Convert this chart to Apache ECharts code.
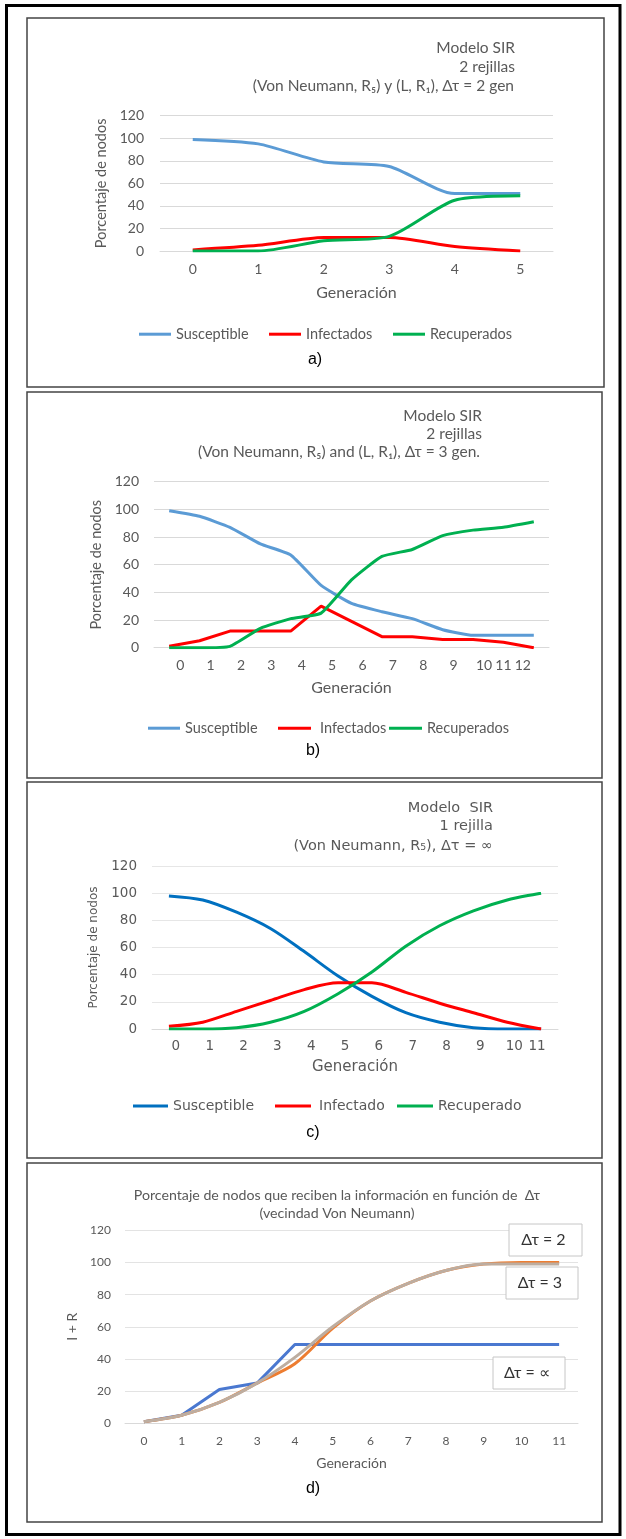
<!DOCTYPE html>
<html>
<head>
<meta charset="utf-8">
<script src="https://cdn.jsdelivr.net/npm/echarts@6/dist/echarts.min.js"></script>
<style>
html,body{margin:0;padding:0;background:#fff;}
#c{width:626px;height:1539px;}
</style>
</head>
<body>
<div id="c"></div>
<script>
// ---------- data ----------
const genA = ['0','1','2','3','4','5'];
const susA = [99,95,79,75,51,51];
const infA = [1,5,12,12,4,0];
const recA = [0,0,9,13,45,49];

const genB = ['0','1','2','3','4','5','6','7','8','9','10','11','12'];
const susB = [99,95,87,75,67,45,32,26,21,13,9,9,9];
const infB = [1,5,12,12,12,30,19,8,8,6,6,4,0];
const recB = [0,0,1,14,21,25,49,66,71,81,85,87,91];

const genC = ['0','1','2','3','4','5','6','7','8','9','10','11'];
const susC = [98,95,86,74,57,39,24,12,5,1,0,0];
const infC = [2,5,13,21,29,34,34,27,19,12,5,0];
const recC = [0,0,1,5,13,26,42,61,76,87,95,100];

const genD = ['0','1','2','3','4','5','6','7','8','9','10','11'];
const dt2 = [1,5,21,25,49,49,49,49,49,49,49,49];
const dt3 = [1,5,13,25,37,59,76,87,95,99,100,100];
const dtInf = [1,5,13,25,41,60,76,87,95,99,99,99];

const yTicks = {min:0, max:120, interval:20};

// ---------- styles ----------
const FA = 'Lato, "Noto Sans", sans-serif';
const FC = '"DejaVu Sans", sans-serif';
const GREY = '#595959';
const GRID = '#d9d9d9';

const chart = echarts.init(document.getElementById('c'), null, {renderer:'canvas'});

function xAxis(idx, data, font, size, nameSize, nameGap, labelMargin, extraLabel){
  const lab = Object.assign({color:GREY, fontFamily:font, fontSize:size, margin:labelMargin, interval:0, hideOverlap:false}, extraLabel||{});
  return {
    type:'category', gridIndex:idx, data:data, boundaryGap:true,
    axisLine:{show:true, lineStyle:{color:GRID, width:1}},
    axisTick:{show:false},
    axisLabel:lab,
    name:'Generación', nameLocation:'middle', nameGap:nameGap,
    nameTextStyle:{color:GREY, fontFamily:font, fontSize:nameSize}
  };
}
function yAxis(idx, name, font, size, nameSize, nameGap, labelMargin, gridColor){
  return {
    type:'value', gridIndex:idx, min:yTicks.min, max:yTicks.max, interval:yTicks.interval,
    axisLine:{show:false}, axisTick:{show:false},
    axisLabel:{color:GREY, fontFamily:font, fontSize:size, margin:labelMargin},
    splitLine:{lineStyle:{color:gridColor||GRID, width:1}},
    name:name, nameLocation:'middle', nameGap:nameGap,
    nameTextStyle:{color:GREY, fontFamily:font, fontSize:nameSize}
  };
}
function line(name, data, idx, color, smooth){
  return {
    type:'line', name:name, data:data, xAxisIndex:idx, yAxisIndex:idx,
    symbol:'none', smooth:smooth, lineStyle:{color:color, width:3}, itemStyle:{color:color},
    silent:true
  };
}
function leg(name, color, left, top, font, size, iw, gapLeft){
  return {
    data:[{name:name, itemStyle:{color:color}}],
    left:left, top:top, padding:0, itemWidth:iw, itemHeight:3, icon:'rect', itemGap:0,
    selectedMode:false,
    textStyle:{color:GREY, fontFamily:font, fontSize:size, padding:[0,0,0,gapLeft||0]}
  };
}
function txt(x, y, s, font, size, align, color){
  return {type:'text', x:x, y:y, silent:true, z:10,
    style:{text:s, fill:color||GREY, font:size+'px '+font, textAlign:align, textVerticalAlign:'middle', align:align, verticalAlign:'middle'}};
}
function frame(x1,y1,x2,y2,color,w){
  return {type:'rect', shape:{x:x1,y:y1,width:x2-x1,height:y2-y1}, silent:true, z:1,
    style:{fill:null, stroke:color, lineWidth:w}};
}
function box(x1,y1,x2,y2,s){
  return [
    {type:'rect', shape:{x:x1,y:y1,width:x2-x1,height:y2-y1}, silent:true, z:5,
      style:{fill:'#fff', stroke:'#c6c6c6', lineWidth:1}},
    {type:'text', x:(x1+x2)/2-2, y:(y1+y2)/2, silent:true, z:6,
      style:{text:s, fill:'#333', font:'16px '+FA, textAlign:'center', textVerticalAlign:'middle', align:'center', verticalAlign:'middle'}}
  ];
}

const option = {
  animation:false,
  backgroundColor:'#fff',
  grid:[
    {left:160, top:115.7, width:393, height:135.3},
    {left:154, top:481.7, width:395, height:166},
    {left:152, top:866, width:406, height:163},
    {left:125, top:1230.3, width:453, height:193}
  ],
  xAxis:[
    xAxis(0, genA, FA, 14, 16, 34, 11),
    xAxis(1, genB, FA, 14, 16, 32, 11, {
      formatter:function(v,i){ return i<=10 ? '{r|'+v+'}' : (i===11 ? '{m|'+v+'}' : '{l|'+v+'}'); },
      rich:{r:{padding:[0,0,0,22], fontFamily:FA, fontSize:14, color:GREY},
            m:{fontFamily:FA, fontSize:14, color:GREY},
            l:{padding:[0,22,0,0], fontFamily:FA, fontSize:14, color:GREY}}
    }),
    xAxis(2, genC, FC, 13.5, 15, 31, 10, {
      formatter:function(v,i){ return i<=10 ? '{r|'+v+'}' : '{l|'+v+'}'; },
      rich:{r:{padding:[0,0,0,14], fontFamily:FC, fontSize:13.5, color:GREY},
            l:{padding:[0,8,0,0], fontFamily:FC, fontSize:13.5, color:GREY}}
    }),
    xAxis(3, genD, FA, 12, 14, 33, 12)
  ],
  yAxis:[
    yAxis(0, 'Porcentaje de nodos', FA, 14, 14.5, 46, 16),
    yAxis(1, 'Porcentaje de nodos', FA, 14, 14.5, 46, 15),
    yAxis(2, 'Porcentaje de nodos', FC, 13.5, 12, 49, 15, '#e6e6e6'),
    yAxis(3, 'I + R', FA, 12, 14, 42, 14, '#e3e3e3')
  ],
  legend:[
    leg('Susceptible', '#5B9BD5', 139, 326.7, FA, 14.5, 32),
    leg('Infectados', '#FF0000', 269, 326.7, FA, 14.5, 32),
    leg('Recuperados', '#00B050', 393, 326.7, FA, 14.5, 32),
    leg('Susceptible', '#5B9BD5', 148, 720.7, FA, 14.5, 32),
    leg('Infectados', '#FF0000', 278, 720.7, FA, 14.5, 33, 4),
    leg('Recuperados', '#00B050', 389, 720.7, FA, 14.5, 33),
    leg('Susceptible', '#0070C0', 133, 1099, FC, 14, 35),
    leg('Infectado', '#FF0000', 275, 1099, FC, 14, 36, 3),
    leg('Recuperado', '#00B050', 397, 1099, FC, 14, 36)
  ],
  series:[
    line('Susceptible', susA, 0, '#5B9BD5', 0.25),
    line('Infectados', infA, 0, '#FF0000', 0.25),
    line('Recuperados', recA, 0, '#00B050', 0.25),
    line('Susceptible', susB, 1, '#5B9BD5', 0.15),
    line('Infectados', infB, 1, '#FF0000', 0),
    line('Recuperados', recB, 1, '#00B050', 0.15),
    line('Susceptible', susC, 2, '#0070C0', 0.3),
    line('Infectado', infC, 2, '#FF0000', 0.3),
    line('Recuperado', recC, 2, '#00B050', 0.3),
    line('Δτ = 2', dt2, 3, '#4A78D0', 0),
    line('Δτ = 3', dt3, 3, '#ED7D31', 0.3),
    line('Δτ = ∞', dtInf, 3, '#BDADA0', 0.3)
  ],
  graphic:[
    frame(6.5,5.5,620,1534.5,'#000',3),
    frame(27,18,604,387,'#444',1.5),
    frame(27,392,602,778,'#444',1.5),
    frame(27,782,602,1158,'#444',1.5),
    frame(27,1163,602,1522,'#444',1.5),
    txt(515,48,'Modelo SIR',FA,15.5,'right'),
    txt(515,67,'2 rejillas',FA,15.5,'right'),
    txt(514,86,'(Von Neumann, R\u2085) y (L, R\u2081), \u0394\u03c4 = 2 gen',FA,15.5,'right'),
    txt(482,416,'Modelo SIR',FA,15.5,'right'),
    txt(482,434,'2 rejillas',FA,15.5,'right'),
    txt(480,452,'(Von Neumann, R\u2085) and (L, R\u2081), \u0394\u03c4 = 3 gen.',FA,15.5,'right'),
    txt(493,808,'Modelo  SIR',FC,14.5,'right'),
    txt(493,826,'1 rejilla',FC,14.5,'right'),
    txt(493,846,'(Von Neumann, R\u2085), \u0394\u03c4 = \u221e',FC,14.5,'right'),
    txt(337,1195,'Porcentaje de nodos que reciben la información en función de  \u0394\u03c4',FA,14.2,'center'),
    txt(337,1213,'(vecindad Von Neumann)',FA,14.2,'center'),
    txt(315,360,'a)','"Liberation Sans", Arial, sans-serif',16,'center','#000'),
    txt(313,751,'b)','"Liberation Sans", Arial, sans-serif',16,'center','#000'),
    txt(313,1133,'c)','"Liberation Sans", Arial, sans-serif',16,'center','#000'),
    txt(313,1489,'d)','"Liberation Sans", Arial, sans-serif',16,'center','#000')
  ].concat(box(509,1224,582,1256,'\u0394\u03c4 = 2'))
   .concat(box(506,1267,578,1299,'\u0394\u03c4 = 3'))
   .concat(box(493,1357,565,1389,'\u0394\u03c4 = \u221d'))
};
chart.setOption(option);
</script>
</body>
</html>
